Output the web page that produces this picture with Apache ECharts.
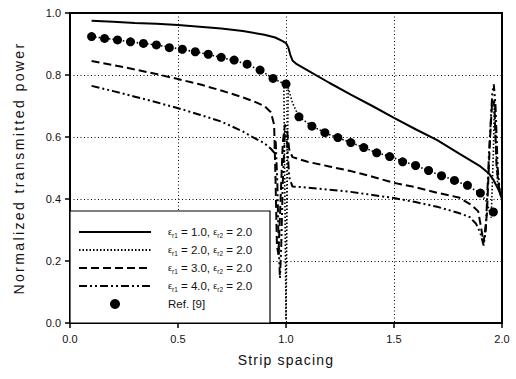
<!DOCTYPE html>
<html>
<head>
<meta charset="utf-8">
<script src="https://cdn.jsdelivr.net/npm/echarts@6/dist/echarts.min.js"></script>
<style>
html,body{margin:0;padding:0;background:#fff;}
#main{width:516px;height:379px;}
</style>
</head>
<body>
<div id="main"></div>
<script>
// ---- data ----
const xTicks = ['0.0', '0.5', '1.0', '1.5', '2.0'];
const yTicks = ['0.0', '0.2', '0.4', '0.6', '0.8', '1.0'];

// eps_r1 = 1.0 (solid)
const s1x = [0.1,0.2,0.3,0.4,0.5,0.6,0.7,0.8,0.9,0.95,0.98,1.0,1.01,1.02,1.03,1.05,1.1,1.2,1.3,1.4,1.5,1.6,1.7,1.8,1.9,1.94,1.96,1.98,2.0];
const s1y = [0.975,0.972,0.968,0.965,0.961,0.956,0.950,0.942,0.930,0.921,0.911,0.903,0.890,0.865,0.847,0.835,0.815,0.775,0.737,0.700,0.662,0.625,0.590,0.547,0.505,0.482,0.462,0.435,0.410];

// eps_r1 = 2.0 (dotted)
const s2x = [0.1,0.2,0.3,0.4,0.5,0.6,0.7,0.8,0.88,0.94,0.99,0.995,1.0,1.005,1.01,1.03,1.06,1.12,1.2,1.3,1.4,1.5,1.6,1.7,1.8,1.9,1.93,1.95,1.96,1.965,1.97,1.98,2.0];
const s2y = [0.924,0.915,0.905,0.897,0.885,0.872,0.857,0.839,0.816,0.789,0.772,0.40,0.01,0.40,0.76,0.71,0.665,0.635,0.608,0.582,0.555,0.532,0.508,0.480,0.455,0.420,0.390,0.340,0.550,0.720,0.600,0.440,0.400];

// eps_r1 = 3.0 (dashed)
const s3x = [0.1,0.2,0.3,0.4,0.5,0.6,0.7,0.8,0.85,0.9,0.93,0.945,0.952,0.958,0.965,0.975,0.985,0.995,1.005,1.015,1.03,1.1,1.2,1.3,1.4,1.5,1.6,1.7,1.8,1.86,1.89,1.905,1.915,1.93,1.945,1.955,1.965,1.975,1.99,2.0];
const s3y = [0.845,0.832,0.818,0.803,0.787,0.770,0.750,0.728,0.715,0.700,0.680,0.640,0.450,0.250,0.220,0.400,0.580,0.640,0.620,0.560,0.535,0.520,0.505,0.490,0.472,0.452,0.438,0.420,0.405,0.380,0.360,0.300,0.260,0.350,0.600,0.720,0.700,0.500,0.420,0.400];

// eps_r1 = 4.0 (dash-dot-dot)
const s4x = [0.1,0.2,0.3,0.4,0.5,0.6,0.7,0.8,0.85,0.9,0.93,0.945,0.952,0.96,0.966,0.972,0.978,0.985,0.995,1.005,1.015,1.03,1.1,1.2,1.3,1.4,1.5,1.6,1.7,1.8,1.85,1.88,1.9,1.915,1.925,1.94,1.955,1.962,1.97,1.98,1.99,2.0];
const s4y = [0.765,0.748,0.730,0.712,0.693,0.672,0.650,0.618,0.598,0.580,0.562,0.550,0.590,0.450,0.250,0.145,0.250,0.450,0.620,0.580,0.470,0.440,0.437,0.430,0.423,0.413,0.403,0.390,0.375,0.355,0.342,0.320,0.290,0.250,0.300,0.550,0.740,0.770,0.700,0.500,0.420,0.400];

// Ref. [9] (dots)
const refX = [0.10,0.16,0.22,0.28,0.34,0.40,0.46,0.52,0.58,0.64,0.70,0.76,0.82,0.88,0.94,1.00,1.06,1.12,1.18,1.24,1.30,1.36,1.42,1.48,1.54,1.60,1.66,1.72,1.78,1.84,1.90,1.96];
const refY = [0.924,0.918,0.913,0.907,0.902,0.897,0.888,0.883,0.875,0.867,0.857,0.848,0.835,0.816,0.789,0.771,0.665,0.635,0.614,0.598,0.582,0.566,0.549,0.537,0.520,0.508,0.492,0.475,0.460,0.444,0.419,0.358];

const legendNames = ['s1', 's2', 's3', 's4', 'Ref. [9]'];
const legendLabels = {
  s1: '{sp|}{e|ε}{sub|r1}{t| = 1.0, }{e|ε}{sub|r2}{t| = 2.0}',
  s2: '{sp|}{e|ε}{sub|r1}{t| = 2.0, }{e|ε}{sub|r2}{t| = 2.0}',
  s3: '{sp|}{e|ε}{sub|r1}{t| = 3.0, }{e|ε}{sub|r2}{t| = 2.0}',
  s4: '{sp|}{e|ε}{sub|r1}{t| = 4.0, }{e|ε}{sub|r2}{t| = 2.0}',
  'Ref. [9]': '{sp|}{t|Ref. [9]}'
};

const pairs = (xs, ys) => xs.map((x, i) => [x, ys[i]]);
const FONT = '"Liberation Sans", Arial, sans-serif';

const chart = echarts.init(document.getElementById('main'), null, {renderer: 'svg'});

const lineSeries = (name, xs, ys, width, type) => ({
  name, type: 'line', data: pairs(xs, ys), symbol: 'none', showSymbol: false,
  lineStyle: {color: '#000', width, type}, itemStyle: {color: '#000'}, z: 3
});

chart.setOption({
  animation: false,
  backgroundColor: '#fff',
  grid: {left: 70, right: 14, top: 13, bottom: 56, show: true, borderColor: '#000', borderWidth: 2},
  xAxis: {
    type: 'value', min: 0, max: 2, interval: 0.5,
    axisLine: {lineStyle: {color: '#000', width: 2}},
    axisTick: {length: 5, lineStyle: {color: '#000', width: 1.5}},
    axisLabel: {formatter: v => xTicks[Math.round(v / 0.5)], color: '#111', fontSize: 11, margin: 10, fontFamily: FONT},
    splitLine: {lineStyle: {color: '#000', type: [1, 2.5], width: 1}},
    name: 'Strip spacing', nameLocation: 'middle', nameGap: 30,
    nameTextStyle: {fontSize: 14, color: '#111', fontFamily: FONT}
  },
  yAxis: {
    type: 'value', min: 0, max: 1, interval: 0.2,
    axisLine: {lineStyle: {color: '#000', width: 2}},
    axisTick: {length: 5, lineStyle: {color: '#000', width: 1.5}},
    axisLabel: {formatter: v => yTicks[Math.round(v / 0.2)], color: '#111', fontSize: 11, margin: 9, fontFamily: FONT},
    splitLine: {lineStyle: {color: '#000', type: [1, 2.5], width: 1}},
    name: 'Normalized transmitted power', nameLocation: 'middle', nameGap: 44,
    nameTextStyle: {fontSize: 14, color: '#111', fontFamily: FONT}
  },
  graphic: [{
    type: 'rect', z: 10,
    shape: {x: 70, y: 211, width: 200, height: 112},
    style: {fill: '#fff', stroke: '#000', lineWidth: 1.2}
  }],
  legend: {
    data: legendNames.map(n => n === 'Ref. [9]'
      ? {name: n, itemStyle: {opacity: 1, color: '#000'}}
      : {name: n}),
    orient: 'vertical', left: 78, top: 226, padding: 0,
    itemWidth: 72, itemHeight: 10, itemGap: 5, z: 20,
    itemStyle: {opacity: 0},
    formatter: n => legendLabels[n],
    textStyle: {
      color: '#111', fontFamily: FONT, fontSize: 11.5,
      rich: {
        sp: {width: 12},
        t: {fontSize: 11.5, fontFamily: FONT, color: '#111', lineHeight: 14},
        e: {fontSize: 9, fontFamily: FONT, color: '#111', lineHeight: 14},
        sub: {fontSize: 6.5, fontFamily: FONT, color: '#111', lineHeight: 6, verticalAlign: 'bottom'}
      }
    }
  },
  series: [
    lineSeries('s1', s1x, s1y, 2, 'solid'),
    lineSeries('s2', s2x, s2y, 1.6, [1.5, 2]),
    lineSeries('s3', s3x, s3y, 2, [8, 4]),
    lineSeries('s4', s4x, s4y, 2, [8, 3, 2, 3, 2, 3]),
    {name: 'Ref. [9]', type: 'scatter', data: pairs(refX, refY), symbol: 'circle', symbolSize: 9,
     itemStyle: {color: '#000', opacity: 1}, z: 4}
  ]
});

function spaceTitles() {
  document.querySelectorAll('#main text').forEach(t => {
    const s = t.textContent;
    if (s === 'Normalized transmitted power') t.style.letterSpacing = '2.4px';
    else if (s === 'Strip spacing') t.style.letterSpacing = '1.2px';
  });
}
spaceTitles();
chart.on('finished', spaceTitles);
</script>
</body>
</html>
